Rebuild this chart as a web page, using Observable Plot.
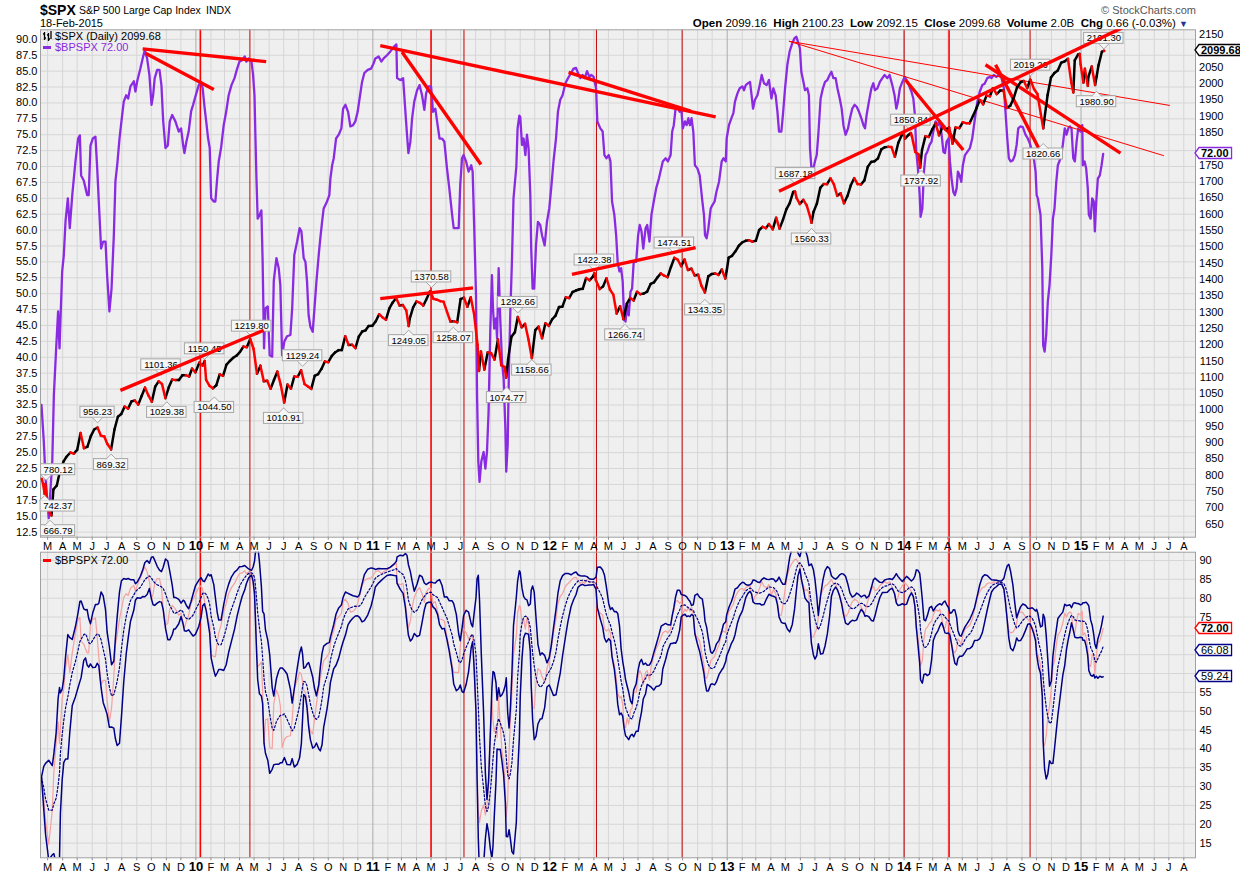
<!DOCTYPE html>
<html><head><meta charset="utf-8">
<script src="https://cdn.jsdelivr.net/npm/d3@7"></script>
<script src="https://cdn.jsdelivr.net/npm/@observablehq/plot@0.6"></script>
<style>
body{margin:0;background:#fff;}
#root{position:relative;width:1240px;height:873px;overflow:hidden;font-family:'Liberation Sans',Arial,sans-serif;color:#000;}
.abs{position:absolute;white-space:nowrap;}
.plotsvg{position:absolute;left:0;}
</style></head><body><div id="root"></div>
<script>
// ---------- DATA ----------
// $BPSPX (decimal year, value)
const bpspx = [
[2009.127,32.5],[2009.140,26.8],[2009.150,21],[2009.168,14.7],[2009.188,23.6],[2009.197,34],[2009.210,41.4],[2009.221,47.2],[2009.229,41.4],[2009.234,45.6],[2009.244,53.5],[2009.253,56],[2009.263,61.4],[2009.276,65],[2009.287,60.3],[2009.301,65.5],[2009.319,70.8],[2009.334,74.4],[2009.344,74.9],[2009.351,68.6],[2009.366,67.8],[2009.376,66.6],[2009.385,65.5],[2009.394,65.5],[2009.404,73.3],[2009.417,74.4],[2009.432,74.7],[2009.442,69.7],[2009.451,64.5],[2009.464,57.1],[2009.476,58.2],[2009.489,58.2],[2009.498,52.9],[2009.511,47.2],[2009.523,50.8],[2009.536,59.2],[2009.545,67.7],[2009.555,70.2],[2009.568,74.4],[2009.579,77.1],[2009.592,80.2],[2009.606,81.2],[2009.617,80.7],[2009.630,82.6],[2009.649,83.4],[2009.658,81.8],[2009.668,83.4],[2009.686,85.4],[2009.699,87],[2009.711,88.3],[2009.724,87],[2009.737,84.4],[2009.749,79.7],[2009.758,81.2],[2009.767,83.9],[2009.781,85.2],[2009.794,85.2],[2009.805,82.8],[2009.815,77.1],[2009.828,72.9],[2009.841,73.3],[2009.852,77.1],[2009.866,78.1],[2009.875,77.6],[2009.884,77.1],[2009.903,75.5],[2009.916,76],[2009.928,73.3],[2009.935,72.1],[2009.946,73.9],[2009.959,75.5],[2009.973,78.7],[2009.984,79.7],[2009.997,81],
[2010.016,82.8],[2010.029,83.3],[2010.038,82.3],[2010.048,79.5],[2010.058,77.1],[2010.069,74.4],[2010.078,72.9],[2010.086,65],[2010.101,64.5],[2010.110,64.5],[2010.120,68.1],[2010.129,70.8],[2010.142,72.9],[2010.157,76.5],[2010.171,78.6],[2010.185,81.2],[2010.201,82.8],[2010.218,83.9],[2010.233,85.4],[2010.246,86.5],[2010.261,86.7],[2010.276,87.3],[2010.285,86.5],[2010.298,87],[2010.314,86.5],[2010.323,84.4],[2010.331,81.2],[2010.336,75],[2010.342,68.1],[2010.349,61.8],[2010.359,62.3],[2010.370,63.1],[2010.377,55.1],[2010.385,41.4],[2010.393,47.7],[2010.406,48],[2010.417,40.3],[2010.431,40.1],[2010.440,52],[2010.455,55.6],[2010.468,54],[2010.477,51.4],[2010.487,40.3],[2010.500,42.5],[2010.515,43.3],[2010.534,43.5],[2010.544,47.7],[2010.556,56.1],[2010.572,58.2],[2010.586,60.3],[2010.596,59.8],[2010.603,57.6],[2010.609,55.6],[2010.619,55],[2010.628,51.9],[2010.637,46.6],[2010.647,44.8],[2010.660,44],[2010.670,47.7],[2010.681,51.9],[2010.694,56.1],[2010.703,58.7],[2010.713,61.3],[2010.722,63.4],[2010.741,64.5],[2010.754,65.5],[2010.760,68.1],[2010.770,70.2],[2010.779,71.3],[2010.792,74.4],[2010.807,75],[2010.822,76],[2010.832,79.1],[2010.845,79.7],[2010.860,78.6],[2010.873,76.3],[2010.888,76.5],[2010.901,77.1],[2010.914,78.6],[2010.925,80.7],[2010.939,83.3],[2010.952,84.7],[2010.971,85.2],[2010.990,85.4],
[2011.004,86.2],[2011.014,87],[2011.033,87.3],[2011.048,86.5],[2011.061,87],[2011.080,87.5],[2011.099,88.1],[2011.121,88.9],[2011.133,89.2],[2011.137,83.9],[2011.155,83.6],[2011.171,83.9],[2011.184,78.6],[2011.193,75],[2011.201,72.1],[2011.212,73.9],[2011.222,77.6],[2011.234,80.2],[2011.250,82],[2011.264,82.8],[2011.278,81.2],[2011.291,78.9],[2011.301,81.5],[2011.315,82.6],[2011.329,82.6],[2011.340,78.6],[2011.353,79.1],[2011.366,76.5],[2011.377,74.4],[2011.391,74.4],[2011.404,73.9],[2011.419,69.7],[2011.432,66.6],[2011.448,62.4],[2011.457,60.3],[2011.472,60.3],[2011.485,60.3],[2011.494,67.1],[2011.504,71.3],[2011.513,71.8],[2011.527,70.8],[2011.541,69.2],[2011.556,70.2],[2011.564,69.2],[2011.573,60.3],[2011.583,49.8],[2011.589,34],[2011.596,23.6],[2011.603,20.4],[2011.613,23.6],[2011.626,25.1],[2011.636,22.5],[2011.645,25.1],[2011.654,31.4],[2011.664,44.5],[2011.673,52.9],[2011.679,47.7],[2011.686,44.5],[2011.696,46.1],[2011.702,43],[2011.711,54],[2011.720,46.1],[2011.730,39.3],[2011.739,36.7],[2011.749,28.8],[2011.754,22],[2011.762,26.2],[2011.770,39.3],[2011.777,47.2],[2011.786,55],[2011.795,65],[2011.811,70],[2011.818,76],[2011.828,78],[2011.833,77.8],[2011.843,73.4],[2011.852,74.4],[2011.862,71.8],[2011.871,75],[2011.880,72.9],[2011.890,65.5],[2011.895,57.1],[2011.903,50.8],[2011.912,50.8],[2011.922,57.6],[2011.933,61.3],[2011.946,60.8],[2011.956,59.2],[2011.971,57.6],[2011.984,61.3],[2011.997,63.4],
[2012.008,66.6],[2012.021,70.8],[2012.035,74.4],[2012.046,78.6],[2012.059,80.5],[2012.072,81.2],[2012.088,83.1],[2012.103,83.9],[2012.120,84.7],[2012.134,85.4],[2012.148,85.5],[2012.159,84.7],[2012.172,83.9],[2012.185,84.4],[2012.197,83.9],[2012.210,85],[2012.223,84.1],[2012.234,84.4],[2012.247,84.1],[2012.261,82.3],[2012.268,77.1],[2012.285,76],[2012.298,75.5],[2012.308,71.8],[2012.319,71.3],[2012.332,71.8],[2012.342,70.8],[2012.351,64.5],[2012.364,62.4],[2012.374,59.2],[2012.383,54.8],[2012.393,53.5],[2012.402,54],[2012.411,51.9],[2012.419,46.1],[2012.427,45.6],[2012.436,48.2],[2012.445,46.6],[2012.455,50.3],[2012.464,50.8],[2012.473,55],[2012.487,55],[2012.498,59.2],[2012.507,60.8],[2012.517,59.8],[2012.527,57.1],[2012.540,60.3],[2012.549,60.8],[2012.562,58.2],[2012.573,62.4],[2012.586,64.5],[2012.600,66.6],[2012.615,68.1],[2012.628,69.7],[2012.637,70.8],[2012.653,71.3],[2012.666,70.8],[2012.681,71.8],[2012.690,75.5],[2012.699,76.5],[2012.709,79.1],[2012.719,79.4],[2012.732,78.6],[2012.741,79.1],[2012.750,76],[2012.762,77.1],[2012.771,76.5],[2012.781,77.6],[2012.790,76.5],[2012.799,77.6],[2012.809,75.5],[2012.818,70.2],[2012.832,69.7],[2012.845,68.6],[2012.860,64.5],[2012.869,62.4],[2012.875,59.2],[2012.884,58.7],[2012.894,60.3],[2012.907,63.4],[2012.916,63.9],[2012.929,64.5],[2012.939,66],[2012.954,67.6],[2012.969,70.8],[2012.979,71.3],[2012.992,70.8],[2012.997,74.4],
[2013.010,76.5],[2013.024,77.6],[2013.035,78.4],[2013.044,80.2],[2013.058,81.5],[2013.071,82.3],[2013.086,82.6],[2013.095,82],[2013.105,82.8],[2013.118,83.1],[2013.129,83.3],[2013.138,81.2],[2013.146,79.1],[2013.157,80.5],[2013.171,81.2],[2013.184,82.8],[2013.195,84.4],[2013.208,83.1],[2013.223,82.8],[2013.236,83.6],[2013.250,80.7],[2013.261,82.3],[2013.274,81.2],[2013.284,78.6],[2013.293,75.5],[2013.306,75.5],[2013.315,78.1],[2013.327,82.3],[2013.340,86],[2013.353,88.1],[2013.368,89.4],[2013.381,90.2],[2013.391,90.4],[2013.400,89.6],[2013.411,88.6],[2013.419,84.9],[2013.431,83.3],[2013.440,82],[2013.453,82.3],[2013.462,81.2],[2013.468,72.9],[2013.476,69.7],[2013.487,69.7],[2013.496,70.8],[2013.506,71.8],[2013.515,75],[2013.528,80.7],[2013.541,82.3],[2013.553,83.3],[2013.566,83.6],[2013.579,84.4],[2013.589,84.9],[2013.600,83.9],[2013.613,83.9],[2013.623,82.3],[2013.636,80.7],[2013.647,79.1],[2013.657,76.5],[2013.669,75],[2013.683,76],[2013.694,77.6],[2013.707,79.1],[2013.720,79.7],[2013.732,79.4],[2013.745,78.6],[2013.758,77.6],[2013.770,76.5],[2013.779,76],[2013.788,78.1],[2013.801,80.2],[2013.815,82.3],[2013.826,83.1],[2013.835,82],[2013.849,82.3],[2013.863,83.3],[2013.877,83.9],[2013.890,84.4],[2013.905,83.9],[2013.918,84.4],[2013.933,82.8],[2013.946,81.2],[2013.956,79.1],[2013.965,80.2],[2013.976,82.3],[2013.990,83.3],
[2014.003,84.1],[2014.014,83.6],[2014.027,82.8],[2014.041,81.8],[2014.052,80.7],[2014.061,78.1],[2014.069,72.3],[2014.078,69.7],[2014.088,65.5],[2014.093,62.1],[2014.103,63.4],[2014.112,69.2],[2014.121,71.8],[2014.131,72.3],[2014.144,73.4],[2014.155,73.9],[2014.165,75.5],[2014.178,77.1],[2014.191,76.5],[2014.202,77.1],[2014.212,75],[2014.222,72.3],[2014.231,72.1],[2014.240,73.9],[2014.251,74.4],[2014.259,70.8],[2014.268,68.1],[2014.278,66],[2014.287,65.5],[2014.297,66.6],[2014.304,69.2],[2014.314,68.6],[2014.323,67.6],[2014.332,70.2],[2014.344,71.8],[2014.357,72.3],[2014.372,72.9],[2014.385,74.4],[2014.398,77.1],[2014.414,80.2],[2014.428,81.8],[2014.442,82.8],[2014.455,83],[2014.470,83.9],[2014.485,84.1],[2014.494,83.9],[2014.507,84.4],[2014.521,84.1],[2014.536,84.4],[2014.551,83.9],[2014.564,82.3],[2014.573,78.6],[2014.583,74.4],[2014.592,71.3],[2014.602,70.8],[2014.615,71],[2014.626,71.8],[2014.636,73.4],[2014.645,76],[2014.658,76.3],[2014.671,76.2],[2014.686,75],[2014.699,74.4],[2014.711,73.6],[2014.724,72.3],[2014.733,71.3],[2014.743,69.2],[2014.749,65.5],[2014.756,65],[2014.762,63.9],[2014.771,62.4],[2014.781,54],[2014.786,41.9],[2014.794,40.9],[2014.803,43.5],[2014.812,48.7],[2014.822,51.4],[2014.832,56.1],[2014.841,61.8],[2014.850,63.4],[2014.860,67.6],[2014.869,70.2],[2014.884,71.3],[2014.897,73.4],[2014.908,76],[2014.918,75],[2014.928,76],[2014.937,76.3],[2014.946,76],[2014.956,71.3],[2014.965,70.8],[2014.975,73.9],[2014.984,76],[2014.997,75.5],
[2015.007,76.5],[2015.010,70.2],[2015.020,70.8],[2015.029,69.7],[2015.038,66.6],[2015.044,62.4],[2015.054,61.8],[2015.063,65],[2015.072,64.5],[2015.078,59.8],[2015.086,64.5],[2015.095,68.1],[2015.106,68.6],[2015.116,70.2],[2015.125,72]
];

// $SPX closes (date, close)
const spx = [
["2009-02-17",789.17],["2009-02-20",770.05],["2009-02-23",743.33],["2009-02-24",773.14],["2009-02-27",735.09],["2009-03-02",700.82],["2009-03-06",683.38],["2009-03-09",676.53],["2009-03-13",756.55],["2009-03-20",768.54],["2009-03-27",815.94],["2009-04-03",842.50],["2009-04-09",856.56],["2009-04-17",869.60],["2009-04-24",866.23],["2009-05-01",877.52],["2009-05-08",929.23],["2009-05-15",882.88],["2009-05-22",887.00],["2009-05-29",919.14],["2009-06-05",940.09],["2009-06-12",946.21],["2009-06-19",921.23],["2009-06-26",918.90],["2009-07-02",896.42],["2009-07-10",879.13],["2009-07-17",940.38],["2009-07-24",979.26],["2009-07-31",987.48],["2009-08-07",1010.48],["2009-08-14",1004.09],["2009-08-21",1026.13],["2009-08-28",1028.93],["2009-09-04",1016.40],["2009-09-11",1042.73],["2009-09-18",1068.30],["2009-09-25",1044.38],["2009-10-02",1025.21],["2009-10-09",1071.49],["2009-10-16",1087.68],["2009-10-23",1079.60],["2009-10-30",1036.19],["2009-11-06",1069.30],["2009-11-13",1093.48],["2009-11-20",1091.38],["2009-11-27",1091.49],["2009-12-04",1105.98],["2009-12-11",1106.41],["2009-12-18",1102.47],["2009-12-24",1126.48],["2009-12-31",1115.10],
["2010-01-08",1144.98],["2010-01-15",1136.03],["2010-01-19",1150.23],["2010-01-22",1091.76],["2010-01-29",1073.87],["2010-02-05",1066.19],["2010-02-12",1075.51],["2010-02-19",1109.17],["2010-02-26",1104.49],["2010-03-05",1138.70],["2010-03-12",1149.99],["2010-03-19",1159.90],["2010-03-26",1166.59],["2010-04-02",1178.10],["2010-04-09",1194.37],["2010-04-16",1192.13],["2010-04-23",1217.28],["2010-04-30",1186.69],["2010-05-07",1110.88],["2010-05-14",1135.68],["2010-05-21",1087.69],["2010-05-28",1089.41],["2010-06-04",1064.88],["2010-06-11",1091.60],["2010-06-18",1117.51],["2010-06-25",1076.76],["2010-07-02",1022.58],["2010-07-09",1077.96],["2010-07-16",1064.88],["2010-07-23",1102.66],["2010-07-30",1101.60],["2010-08-06",1121.64],["2010-08-13",1079.25],["2010-08-20",1071.69],["2010-08-27",1064.59],["2010-09-03",1104.51],["2010-09-10",1109.55],["2010-09-17",1125.59],["2010-09-24",1148.67],["2010-10-01",1146.24],["2010-10-08",1165.15],["2010-10-15",1176.19],["2010-10-22",1183.08],["2010-10-29",1183.26],["2010-11-05",1225.85],["2010-11-12",1199.21],["2010-11-19",1199.73],["2010-11-26",1189.40],["2010-12-03",1224.71],["2010-12-10",1240.40],["2010-12-17",1243.91],["2010-12-23",1256.77],["2010-12-31",1257.64],
["2011-01-07",1271.50],["2011-01-14",1293.24],["2011-01-21",1283.35],["2011-01-28",1276.34],["2011-02-04",1310.87],["2011-02-11",1329.15],["2011-02-18",1343.01],["2011-02-25",1319.88],["2011-03-04",1321.15],["2011-03-11",1304.28],["2011-03-16",1256.88],["2011-03-18",1279.21],["2011-03-25",1313.80],["2011-04-01",1332.41],["2011-04-08",1328.17],["2011-04-15",1319.68],["2011-04-21",1337.38],["2011-04-29",1363.61],["2011-05-06",1340.20],["2011-05-13",1337.77],["2011-05-20",1333.27],["2011-05-27",1331.10],["2011-06-03",1300.16],["2011-06-10",1270.98],["2011-06-17",1271.50],["2011-06-24",1268.45],["2011-07-01",1339.67],["2011-07-08",1343.80],["2011-07-15",1316.14],["2011-07-22",1345.02],["2011-07-29",1292.28],["2011-08-05",1199.38],["2011-08-08",1119.46],["2011-08-12",1178.81],["2011-08-19",1123.53],["2011-08-26",1176.80],["2011-09-02",1173.97],["2011-09-09",1154.23],["2011-09-16",1216.01],["2011-09-23",1136.43],["2011-09-30",1131.42],["2011-10-03",1099.23],["2011-10-07",1155.46],["2011-10-14",1224.58],["2011-10-21",1238.25],["2011-10-27",1284.59],["2011-11-04",1253.23],["2011-11-11",1263.85],["2011-11-18",1215.65],["2011-11-25",1158.67],["2011-12-02",1244.28],["2011-12-09",1255.19],["2011-12-16",1219.66],["2011-12-23",1265.33],["2011-12-30",1257.60],
["2012-01-06",1277.81],["2012-01-13",1289.09],["2012-01-20",1315.38],["2012-01-27",1316.33],["2012-02-03",1344.90],["2012-02-10",1342.64],["2012-02-17",1361.23],["2012-02-24",1365.74],["2012-03-02",1369.63],["2012-03-09",1370.87],["2012-03-16",1404.17],["2012-03-23",1397.11],["2012-03-30",1408.47],["2012-04-02",1419.04],["2012-04-05",1398.08],["2012-04-13",1370.26],["2012-04-20",1378.53],["2012-04-27",1403.36],["2012-05-04",1369.10],["2012-05-11",1353.39],["2012-05-18",1295.22],["2012-05-25",1317.82],["2012-06-01",1278.04],["2012-06-08",1325.66],["2012-06-15",1342.84],["2012-06-22",1335.02],["2012-06-29",1362.16],["2012-07-06",1354.68],["2012-07-13",1356.78],["2012-07-20",1362.66],["2012-07-27",1385.97],["2012-08-03",1390.99],["2012-08-10",1405.87],["2012-08-17",1418.16],["2012-08-24",1411.13],["2012-08-31",1406.58],["2012-09-07",1437.92],["2012-09-14",1465.77],["2012-09-21",1460.15],["2012-09-28",1440.67],["2012-10-05",1460.93],["2012-10-12",1428.59],["2012-10-19",1433.19],["2012-10-26",1411.94],["2012-11-02",1414.20],["2012-11-09",1379.85],["2012-11-16",1359.88],["2012-11-23",1409.15],["2012-11-30",1416.18],["2012-12-07",1418.07],["2012-12-14",1413.58],["2012-12-21",1430.15],["2012-12-28",1402.43],["2012-12-31",1426.19],
["2013-01-04",1466.47],["2013-01-11",1472.05],["2013-01-18",1485.98],["2013-01-25",1502.96],["2013-02-01",1513.17],["2013-02-08",1517.93],["2013-02-15",1519.79],["2013-02-22",1515.60],["2013-03-01",1518.20],["2013-03-08",1551.18],["2013-03-15",1560.70],["2013-03-22",1556.89],["2013-03-28",1569.19],["2013-04-05",1553.28],["2013-04-12",1588.85],["2013-04-19",1555.25],["2013-04-26",1582.24],["2013-05-03",1614.42],["2013-05-10",1633.70],["2013-05-17",1667.47],["2013-05-21",1669.16],["2013-05-24",1649.60],["2013-05-31",1630.74],["2013-06-07",1643.38],["2013-06-14",1626.73],["2013-06-21",1592.43],["2013-06-24",1573.09],["2013-06-28",1606.28],["2013-07-05",1631.89],["2013-07-12",1680.19],["2013-07-19",1692.09],["2013-07-26",1691.65],["2013-08-02",1709.67],["2013-08-09",1691.42],["2013-08-16",1655.83],["2013-08-23",1663.50],["2013-08-30",1632.97],["2013-09-06",1655.17],["2013-09-13",1687.99],["2013-09-20",1709.91],["2013-09-27",1691.75],["2013-10-04",1690.50],["2013-10-11",1703.20],["2013-10-18",1744.50],["2013-10-25",1759.77],["2013-11-01",1761.64],["2013-11-08",1770.61],["2013-11-15",1798.18],["2013-11-22",1804.76],["2013-11-29",1805.81],["2013-12-06",1805.09],["2013-12-13",1775.32],["2013-12-20",1818.32],["2013-12-27",1841.40],["2013-12-31",1848.36],
["2014-01-03",1831.37],["2014-01-10",1842.37],["2014-01-15",1848.38],["2014-01-17",1838.70],["2014-01-24",1790.29],["2014-01-31",1782.59],["2014-02-03",1741.89],["2014-02-07",1797.02],["2014-02-14",1838.63],["2014-02-21",1836.25],["2014-02-28",1859.45],["2014-03-07",1878.04],["2014-03-14",1841.13],["2014-03-21",1866.52],["2014-03-28",1857.62],["2014-04-04",1865.09],["2014-04-11",1815.69],["2014-04-17",1864.85],["2014-04-25",1863.40],["2014-05-02",1881.14],["2014-05-09",1878.48],["2014-05-16",1877.86],["2014-05-23",1900.53],["2014-05-30",1923.57],["2014-06-06",1949.44],["2014-06-13",1936.16],["2014-06-20",1962.87],["2014-06-27",1960.96],["2014-07-03",1985.44],["2014-07-11",1967.57],["2014-07-18",1978.22],["2014-07-25",1978.34],["2014-08-01",1925.15],["2014-08-08",1931.59],["2014-08-15",1955.06],["2014-08-22",1988.40],["2014-08-29",2003.37],["2014-09-05",2007.71],["2014-09-12",1985.54],["2014-09-18",2011.36],["2014-09-19",2010.40],["2014-09-26",1982.85],["2014-10-03",1967.90],["2014-10-10",1906.13],["2014-10-15",1862.49],["2014-10-17",1886.76],["2014-10-24",1964.58],["2014-10-31",2018.05],["2014-11-07",2031.92],["2014-11-14",2039.82],["2014-11-21",2063.50],["2014-11-28",2067.56],["2014-12-05",2075.37],["2014-12-12",2002.33],["2014-12-16",1972.74],["2014-12-19",2070.65],["2014-12-26",2088.77],["2014-12-29",2090.57],["2014-12-31",2058.90],
["2015-01-06",2002.61],["2015-01-09",2044.81],["2015-01-15",1992.67],["2015-01-16",2019.42],["2015-01-23",2051.82],["2015-01-30",1994.99],["2015-02-02",2020.85],["2015-02-06",2055.47],["2015-02-13",2096.99],["2015-02-17",2100.34],["2015-02-18",2099.68]
];

// annotated highs (label above) and lows (label below)
const spxHighs = [["2009-02-26",780.12],["2009-06-12",956.23],["2009-10-21",1101.36],["2010-01-19",1150.45],["2010-04-26",1219.80],["2010-08-09",1129.24],["2011-05-02",1370.58],["2011-10-27",1292.66],["2012-04-02",1422.38],["2012-09-14",1474.51],["2013-05-22",1687.18],["2014-01-15",1850.84],["2014-09-19",2019.26],["2015-02-17",2101.30]];
const spxLows = [["2009-02-23",742.37],["2009-03-06",666.79],["2009-07-10",869.32],["2009-11-02",1029.38],["2010-02-08",1044.50],["2010-07-01",1010.91],["2011-03-16",1249.05],["2011-06-16",1258.07],["2011-10-04",1074.77],["2011-11-25",1158.66],["2012-06-04",1266.74],["2012-11-16",1343.35],["2013-06-24",1560.33],["2014-02-05",1737.92],["2014-10-15",1820.66],["2015-02-02",1980.90]];

// trend lines [yearFrom, valueFrom, yearTo, valueTo]
const bpTrendThick = [[2009.699,88.5,2010.397,86.5],[2009.715,87.8,2010.101,82.1],[2011.042,89.0,2012.935,77.8],[2011.165,88.0,2011.611,70.3],[2012.106,84.8,2012.794,78.7],[2014.008,83.6,2014.334,72.6],[2014.517,86.0,2014.790,71.3],[2014.460,86.0,2015.223,72.1]];
const bpTrendThin = [[2013.349,89.7,2015.502,79.6],[2013.349,89.7,2015.468,71.7]];
const spxTrend = [[2009.573,1060,2010.383,1244],[2011.042,1341,2011.566,1374],[2012.125,1415,2012.822,1497],[2013.293,1670,2015.234,2171]];
// vertical marker dates: bright (wider) and dark (thin)
const markersBright = [2010.025, 2011.329, 2014.254];
const markersDark = [2010.305, 2011.515, 2012.263, 2012.746, 2014.000, 2014.712];

const bpTicks = d3.range(12.5, 90.01, 2.5);
const spxTicks = d3.range(650, 2151, 50).filter(v => v !== 2100 && v !== 1800); // hidden behind value tags
const lowTicks = d3.range(15, 91, 5);
const lowLabelTicks = lowTicks.filter(v => v !== 70 && v !== 65 && v !== 60); // hidden behind value tags
const monthLetters = "JFMAMJJASOND";

// ---------- HELPERS ----------
const yd = y => { const Y = Math.floor(y); const s = Date.UTC(Y,0,1), e = Date.UTC(Y+1,0,1); return new Date(s + (y-Y)*(e-s)); };
const pd = s => new Date(s + "T00:00:00Z");
const months = d3.utcMonth.range(new Date(Date.UTC(2009,2,1)), new Date(Date.UTC(2015,8,1)));
const monthsNonJan = months.filter(d => d.getUTCMonth() !== 0);
const jans = months.filter(d => d.getUTCMonth() === 0);
const FONT = "'Liberation Sans', Arial, sans-serif";
const xDom = [yd(2009.1215), yd(2015.6469)];
const common = {width:1240, marginLeft:40, marginRight:45, className:"plotsvg",
  style:{fontFamily:FONT, fontSize:"11px", background:"transparent", color:"#000", overflow:"visible"}};
const BG = "#efefef", GRID = "#d6d6d6", GRIDY = "#acacac", FRAME = "#a0a0a0";
function band(n, k) {
  return V => V.map((_, i) => {
    const s = V.slice(Math.max(0, i - n + 1), i + 1);
    const m = d3.mean(s);
    const sd = s.length > 1 ? Math.sqrt(d3.mean(s, v => (v - m) * (v - m))) : 0;
    return m + k * sd;
  });
}
const bx = d => yd(d[0]), by = d => d[1];
const monthAxis = [
  Plot.axisX(monthsNonJan, {anchor:"bottom", tickSize:3, tickPadding:2, stroke:"#888", tickFormat:d => monthLetters[d.getUTCMonth()], fontSize:11}),
  Plot.axisX(jans, {anchor:"bottom", tickSize:3, tickPadding:1, stroke:"#888", tickFormat:d => String(d.getUTCFullYear()%100).padStart(2,"0"), fontSize:13, fontWeight:"bold"})
];
const markerMarks = (opts) => [
  Plot.ruleX(markersDark, {x:d => yd(d), stroke:"#c40000", strokeWidth:1, ...opts}),
  Plot.ruleX(markersBright, {x:d => yd(d), stroke:"#ff0000", strokeWidth:1.6, ...opts})
];

// ---------- TOP PANEL: $BPSPX ----------
const topH = 560, mTop = 29.3, mBot = topH - 536.7;
const A = Plot.plot({...common, height:topH, marginTop:mTop, marginBottom:mBot,
  x:{type:"utc", domain:xDom}, y:{domain:[11.7, 91.5]},
  marks:[
    Plot.frame({fill:BG, stroke:null}),
    Plot.gridY(bpTicks, {stroke:GRID, strokeOpacity:1}),
    Plot.gridX(monthsNonJan, {stroke:GRID, strokeOpacity:1}),
    Plot.gridX(jans, {stroke:GRIDY, strokeOpacity:1}),
    ...markerMarks({y1:91.5, y2:9.3}),
    Plot.line(bpspx, {x:bx, y:by, stroke:"#8a2be2", strokeWidth:2.3}),
    Plot.link(bpTrendThin, {x1:d=>yd(d[0]), y1:d=>d[1], x2:d=>yd(d[2]), y2:d=>d[3], stroke:"#ff0000", strokeWidth:1}),
    Plot.link(bpTrendThick, {x1:d=>yd(d[0]), y1:d=>d[1], x2:d=>yd(d[2]), y2:d=>d[3], stroke:"#ff0000", strokeWidth:3.4}),
    Plot.axisY(bpTicks, {anchor:"left", tickSize:0, tickPadding:3, tickFormat:d => d.toFixed(1)}),
    ...monthAxis,
    Plot.frame({stroke:FRAME})
  ]});

// ---------- TOP PANEL: $SPX overlay ----------
const spxY = [610.2, 2164.4];
// scales identical to those of the overlay plot, used to size the annotation boxes in pixels
const xS = Plot.scale({x:{type:"utc", domain:xDom, range:[40, 1240 - 45]}});
const yS = Plot.scale({y:{type:"linear", domain:spxY, range:[topH - mBot, mTop]}});
const labelShift = {"780.12":12, "742.37":13, "666.79":8};
const labelRows = [...spxHighs.map(d => [d, true]), ...spxLows.map(d => [d, false])].map(([d, up]) => {
  const s = d[1].toFixed(2);
  const px = xS.apply(pd(d[0])), py = yS.apply(d[1]);
  const cx = px + (labelShift[s] || 0), cy = py + (up ? -12 : 12);
  const w = (s.length - 1) * 5.3 + 2.7 + 5, h = 11;
  const edge = up ? cy + h / 2 : cy - h / 2, tip = up ? edge + 5 : edge - 5;
  return {s, up, px, py, cx, cy, w, h, edge, tip};
});
const pointerPts = labelRows.flatMap((r, i) => [
  {id:i, x:r.px - 5, y:r.edge}, {id:i, x:r.px, y:r.tip}, {id:i, x:r.px + 5, y:r.edge}]);

const segs = d3.pairs(spx.map(([d, c]) => ({date:pd(d), c})));
const B = Plot.plot({...common, height:topH, marginTop:mTop, marginBottom:mBot,
  x:{type:"utc", domain:xDom, axis:null}, y:{domain:spxY},
  marks:[
    Plot.link(segs.filter(([a,b]) => b.c >= a.c), {x1:d=>d[0].date, y1:d=>d[0].c, x2:d=>d[1].date, y2:d=>d[1].c, stroke:"#000", strokeWidth:2.5, strokeLinecap:"round"}),
    Plot.link(segs.filter(([a,b]) => b.c < a.c), {x1:d=>d[0].date, y1:d=>d[0].c, x2:d=>d[1].date, y2:d=>d[1].c, stroke:"#ff0000", strokeWidth:2.5, strokeLinecap:"round"}),
    Plot.rect(labelRows, {x1:r => xS.invert(r.cx - r.w/2), x2:r => xS.invert(r.cx + r.w/2), y1:r => yS.invert(r.cy - r.h/2), y2:r => yS.invert(r.cy + r.h/2), fill:"#f7f7f7", stroke:"#a6a6a6", strokeWidth:1}),
    Plot.line(pointerPts, {x:p => xS.invert(p.x), y:p => yS.invert(p.y), z:"id", stroke:"#a6a6a6", strokeWidth:1, fill:"#f7f7f7"}),
    Plot.text(labelRows, {x:r => xS.invert(r.cx), y:r => yS.invert(r.cy), text:"s", fontSize:9.5, fill:"#000"}),
    Plot.link(spxTrend, {x1:d=>yd(d[0]), y1:d=>d[1], x2:d=>yd(d[2]), y2:d=>d[3], stroke:"#ff0000", strokeWidth:3.4, clip:true}),
    Plot.axisY(spxTicks, {anchor:"right", tickSize:0, tickPadding:28, textAnchor:"end", tickFormat:d => String(d)})
  ]});

// ---------- LOWER PANEL ----------
const cTop = 540, cH = 333;
const C = Plot.plot({...common, height:cH, marginTop:551.7-cTop, marginBottom:cH-(857.3-cTop),
  x:{type:"utc", domain:xDom}, y:{domain:[11.1, 92.2]},
  marks:[
    Plot.frame({fill:BG, stroke:null}),
    Plot.gridY(lowTicks, {stroke:GRID, strokeOpacity:1}),
    Plot.gridX(monthsNonJan, {stroke:GRID, strokeOpacity:1}),
    Plot.gridX(jans, {stroke:GRIDY, strokeOpacity:1}),
    ...markerMarks({}),
    Plot.line(bpspx, {x:bx, y:by, stroke:"#f6a0a0", strokeWidth:1.2}),
    Plot.line(bpspx, Plot.map({y:band(6, 2)}, {x:bx, y:by, stroke:"#000088", strokeWidth:1.5, clip:true})),
    Plot.line(bpspx, Plot.map({y:band(6, -2)}, {x:bx, y:by, stroke:"#000088", strokeWidth:1.5, clip:true})),
    Plot.line(bpspx, Plot.map({y:band(6, 0)}, {x:bx, y:by, stroke:"#000088", strokeWidth:1.2, strokeDasharray:"2,2", clip:true})),
    Plot.axisY(lowLabelTicks, {anchor:"right", tickSize:0, tickPadding:4}),
    ...monthAxis,
    Plot.frame({stroke:FRAME})
  ]});

// ---------- ASSEMBLE ----------
const root = document.getElementById("root");
[A, B, C].forEach(s => { s.style.position = "absolute"; s.style.left = "0px"; });
A.style.top = "0px"; B.style.top = "0px"; C.style.top = cTop + "px";
root.appendChild(A); root.appendChild(C); root.appendChild(B);

// current-value tags on the right axes, placed with the plots' y scales
function addTag(yPage, label, color, bold) {
  const w = (label.length - 1) * 6.12 + 3.06 + 4;
  const d = document.createElement("div");
  d.className = "abs";
  d.style.cssText = `left:1194px;top:${yPage - 7}px;width:${w + 8}px;height:14px;`;
  d.innerHTML = `<svg width="${w + 8}" height="14" style="display:block;overflow:visible">
    <path d="M1,7L5,1.5H${w + 6}V12.5H5Z" fill="#fff" stroke="${color}" stroke-width="1.3"/>
    <text x="7" y="11" font-family="${FONT.replace(/'/g, "")}" font-size="11" font-weight="${bold ? "bold" : "normal"}" fill="#000">${label}</text></svg>`;
  root.appendChild(d);
}
addTag(B.scale("y").apply(2099.68), "2099.68", "#000", true);
addTag(A.scale("y").apply(72), "72.00", "#8a2be2", true);
const yC = C.scale("y");
addTag(cTop + yC.apply(59.24), "59.24", "#000088", false);
addTag(cTop + yC.apply(66.08), "66.08", "#000088", false);
addTag(cTop + yC.apply(72), "72.00", "#ff0000", true);

// ---------- TEXT ----------
function div(html, css) { const d = document.createElement("div"); d.className = "abs"; d.style.cssText = css; d.innerHTML = html; root.appendChild(d); return d; }
div("$SPX", "left:40px;top:2px;font-size:14px;font-weight:bold;line-height:16px;");
div("S&amp;P 500 Large Cap Index", "left:79px;top:4px;font-size:10.5px;line-height:12px;");
div("INDX", "left:206px;top:4px;font-size:10.5px;line-height:12px;");
div("18-Feb-2015", "left:40px;top:17px;font-size:11px;line-height:12px;");
div("&copy; StockCharts.com", "right:44px;top:4px;font-size:11px;line-height:12px;color:#555;");
div("<b>Open</b> 2099.16 &nbsp;<b>High</b> 2100.23 &nbsp;<b>Low</b> 2092.15 &nbsp;<b>Close</b> 2099.68 &nbsp;<b>Volume</b> 2.0B &nbsp;<b>Chg</b> 0.66 (-0.03%) <span style='color:#23339a;font-size:9px'>&#9660;</span>",
    "right:52px;top:17px;font-size:11.5px;line-height:13px;");
// legends
div("<svg width='9' height='10' style='vertical-align:-1px;margin-right:3px'><path d='M1.5,1V9M0,3H1.5M1.5,7H3M5.5,2V10M4,4H5.5M5.5,8H7M8,0V8' stroke='#000' stroke-width='1.3' fill='none'/></svg>$SPX (Daily) 2099.68",
    "left:43px;top:31px;font-size:11px;line-height:10px;");
div("<span style='display:inline-block;width:8px;height:3px;background:#8a2be2;vertical-align:2px;margin-right:4px'></span>$BPSPX 72.00",
    "left:43px;top:42px;font-size:11px;line-height:10px;color:#8a2be2;");
div("<span style='display:inline-block;width:8px;height:3px;background:#ff0000;vertical-align:2px;margin-right:4px'></span>$BPSPX 72.00",
    "left:43px;top:555px;font-size:11px;line-height:10px;");
</script></body></html>
